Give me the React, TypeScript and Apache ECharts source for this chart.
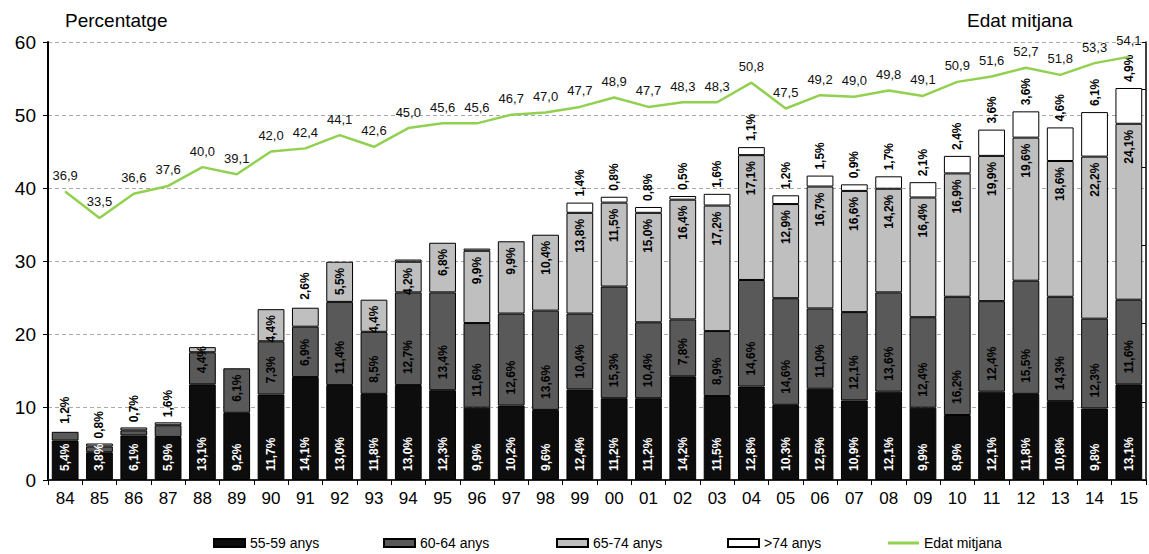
import React, { useEffect, useRef } from "react";
import * as echarts from "echarts";

const years = ["84","85","86","87","88","89","90","91","92","93","94","95","96","97","98","99","00","01","02","03","04","05","06","07","08","09","10","11","12","13","14","15"];
const s5559 = [5.4,3.8,6.1,5.9,13.1,9.2,11.7,14.1,13.0,11.8,13.0,12.3,9.9,10.2,9.6,12.4,11.2,11.2,14.2,11.5,12.8,10.3,12.5,10.9,12.1,9.9,8.9,12.1,11.8,10.8,9.8,13.1];
const s6064 = [1.2,0.8,0.7,1.6,4.4,6.1,7.3,6.9,11.4,8.5,12.7,13.4,11.6,12.6,13.6,10.4,15.3,10.4,7.8,8.9,14.6,14.6,11.0,12.1,13.6,12.4,16.2,12.4,15.5,14.3,12.3,11.6];
const s6574 = [0,0.4,0.4,0.4,0.7,0,4.4,2.6,5.5,4.4,4.2,6.8,9.9,9.9,10.4,13.8,11.5,15.0,16.4,17.2,17.1,12.9,16.7,16.6,14.2,16.4,16.9,19.9,19.6,18.6,22.2,24.1];
const sOver74 = [0,0,0,0,0,0,0,0,0,0,0.3,0,0.3,0,0,1.4,0.8,0.8,0.5,1.6,1.1,1.2,1.5,0.9,1.7,2.1,2.4,3.6,3.6,4.6,6.1,4.9];
const edat = [36.9,33.5,36.6,37.6,40.0,39.1,42.0,42.4,44.1,42.6,45.0,45.6,45.6,46.7,47.0,47.7,48.9,47.7,48.3,48.3,50.8,47.5,49.2,49.0,49.8,49.1,50.9,51.6,52.7,51.8,53.3,54.1];
const yTicksLeft = { min: 0, max: 60, interval: 10 };
const yTicksRight = { min: 0, max: 56, interval: 10 };

const topLabel6064 = ["84","85","86","87"];
const topLabel6574 = ["91"];
const noLabel6574 = ["85","86","87","88"];
const noLabelOver74 = ["94","96"];

const FONT = "'Liberation Sans', Arial, sans-serif";
const NARROW = "'Liberation Sans Narrow', 'Arial Narrow', 'Liberation Sans', Arial, sans-serif";

const fmtPct = (p: any) => Number(p.value).toFixed(1).replace(".", ",") + "%";
const fmtNum = (p: any) => Number(p.value).toFixed(1).replace(".", ",");

const baseLabel = {
  show: true,
  rotate: 90,
  fontSize: 12,
  fontWeight: "bold" as const,
  fontFamily: FONT,
  formatter: fmtPct,
};
const topLabel = { show: true, position: "top", distance: 8, align: "left", verticalAlign: "middle" };

function build(values: number[], hidden: string[], top: string[]) {
  return values.map((v, i) => {
    if (!v) return { value: null, label: { show: false } };
    if (hidden.includes(years[i])) return { value: v, label: { show: false } };
    if (top.includes(years[i])) return { value: v, label: topLabel };
    return { value: v };
  });
}

export default function App() {
  const ref = useRef<HTMLDivElement>(null);
  useEffect(() => {
    if (!ref.current) return;
    const chart = echarts.init(ref.current, null, { renderer: "svg" });
    const barItem = (color: string) => ({ color, borderColor: "#000", borderWidth: 1 });
    const legendBase = {
      top: 536,
      padding: 0,
      itemWidth: 31,
      itemHeight: 8,
      itemGap: 4,
      icon: "rect",
      textStyle: { fontSize: 14, fontFamily: NARROW, color: "#000" },
    };
    chart.setOption({
      animation: false,
      textStyle: { fontFamily: FONT },
      grid: { left: 48, right: 3, top: 42, bottom: 74 },
      graphic: [
        { type: "text", left: 65, top: 11, style: { text: "Percentatge", fontSize: 19, fontFamily: FONT, fill: "#000" } },
        { type: "text", left: 967, top: 11, style: { text: "Edat mitjana", fontSize: 19, fontFamily: FONT, fill: "#000" } },
      ],
      legend: [
        { ...legendBase, left: 213, data: ["55-59 anys"] },
        { ...legendBase, left: 383, data: ["60-64 anys"] },
        { ...legendBase, left: 556, data: ["65-74 anys"] },
        { ...legendBase, left: 727, data: [">74 anys"] },
        { ...legendBase, left: 888, itemHeight: 3, data: [{ name: "Edat mitjana", icon: "rect" }] },
      ],
      xAxis: [
        {
          type: "category",
          data: years,
          axisLine: { lineStyle: { color: "#000", width: 2 } },
          axisTick: { show: true, length: 5, lineStyle: { color: "#000" } },
          axisLabel: { fontSize: 17, color: "#000", margin: 10, fontFamily: FONT },
        },
        {
          type: "category",
          data: years,
          position: "top",
          axisLine: { lineStyle: { color: "#333", width: 1.5 } },
          axisTick: { show: false },
          axisLabel: { show: false },
        },
      ],
      yAxis: [
        {
          type: "value",
          ...yTicksLeft,
          axisLine: { show: true, lineStyle: { color: "#000", width: 2 } },
          axisTick: { show: true, length: 5, lineStyle: { color: "#000" } },
          axisLabel: { fontSize: 19, color: "#000", margin: 12, fontFamily: FONT },
          splitLine: { lineStyle: { color: "#aaa", type: [4, 3], width: 1 } },
        },
        {
          type: "value",
          ...yTicksRight,
          position: "right",
          axisLine: { show: true, lineStyle: { color: "#000", width: 1.5 } },
          axisTick: { show: true, inside: true, length: 4, lineStyle: { color: "#000" } },
          axisLabel: { show: false },
          splitLine: { show: false },
        },
      ],
      series: [
        {
          name: "55-59 anys",
          type: "bar",
          stack: "a",
          barCategoryGap: "22%",
          itemStyle: barItem("#0d0d0d"),
          label: { ...baseLabel, position: "insideBottom", distance: 9, align: "left", verticalAlign: "middle", color: "#fff" },
          data: build(s5559, [], []),
        },
        {
          name: "60-64 anys",
          type: "bar",
          stack: "a",
          itemStyle: barItem("#595959"),
          label: { ...baseLabel, position: "insideBottom", distance: 11, align: "left", verticalAlign: "middle", color: "#000" },
          data: build(s6064, [], topLabel6064),
        },
        {
          name: "65-74 anys",
          type: "bar",
          stack: "a",
          itemStyle: barItem("#bfbfbf"),
          label: { ...baseLabel, position: "insideTop", distance: 6, align: "right", verticalAlign: "middle", color: "#000" },
          data: build(s6574, noLabel6574, topLabel6574),
        },
        {
          name: ">74 anys",
          type: "bar",
          stack: "a",
          itemStyle: barItem("#ffffff"),
          label: { ...baseLabel, position: "top", distance: 6, align: "left", verticalAlign: "middle", color: "#000" },
          data: build(sOver74, noLabelOver74, []),
        },
        {
          name: "Edat mitjana",
          type: "line",
          yAxisIndex: 1,
          data: edat,
          symbol: "circle",
          symbolSize: 1,
          showSymbol: true,
          z: 5,
          itemStyle: { color: "#92D050" },
          lineStyle: { color: "#92D050", width: 2.5 },
          label: { show: true, position: "top", distance: 9, fontSize: 13, color: "#111", fontFamily: FONT, formatter: fmtNum },
        },
      ],
    });
    return () => chart.dispose();
  }, []);
  return <div ref={ref} style={{ position: "absolute", left: 0, top: 0, width: 1149, height: 554 }} />;
}
